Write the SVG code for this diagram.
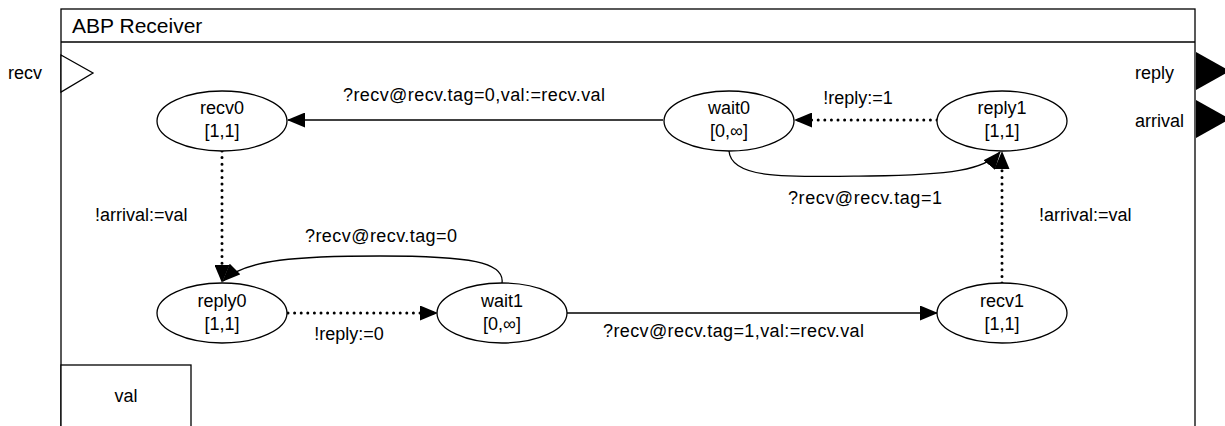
<svg xmlns="http://www.w3.org/2000/svg" width="1225" height="426" viewBox="0 0 1225 426">
  <style>
    text { font-family: "Liberation Sans", Arial, Helvetica, sans-serif; font-size: 18px; fill: #000; }
    .title { font-size: 21px; }
    .mid { text-anchor: middle; }
    .state { fill: #fff; stroke: #000; stroke-width: 1.3; }
    .edge { fill: none; stroke: #000; stroke-width: 1.3; }
    .dot { fill: none; stroke: #000; stroke-width: 3; stroke-dasharray: 0 6.6; stroke-linecap: round; }
    .frame { fill: #fff; stroke: #000; stroke-width: 1.3; }
  </style>
  <defs>
    <marker id="arrow" markerUnits="userSpaceOnUse" markerWidth="18" markerHeight="15" viewBox="0 0 18 15" refX="17" refY="7.5" orient="auto">
      <path d="M0,0 L18,7.5 L0,15 z" fill="#000" stroke="none"/>
    </marker>
  </defs>

  <rect width="1225" height="426" fill="#fff"/>

  <!-- component frame -->
  <g id="frame">
    <rect class="frame" x="61" y="9" width="1134" height="520"/>
    <line x1="61" y1="42" x2="1195" y2="42" stroke="#000" stroke-width="1.3"/>
    <text class="title" x="72" y="33">ABP Receiver</text>
  </g>

  <!-- ports -->
  <g id="port-recv">
    <polygon points="61,55 93,73 61,92" fill="#fff" stroke="#000" stroke-width="1.3"/>
    <text x="8" y="79">recv</text>
  </g>
  <g id="port-reply">
    <polygon points="1196,52 1230,71 1196,90" fill="#000"/>
    <text x="1135" y="79">reply</text>
  </g>
  <g id="port-arrival">
    <polygon points="1196,100 1230,119 1196,138" fill="#000"/>
    <text x="1135" y="127">arrival</text>
  </g>

  <!-- variable box -->
  <g id="var-val">
    <rect class="frame" x="61" y="365" width="130" height="90"/>
    <text class="mid" x="126" y="402">val</text>
  </g>

  <!-- transitions -->
  <g id="connectors">
    <path class="edge" d="M663,120 L288,120" marker-end="url(#arrow)"/>
    <text x="343" y="101" textLength="262" lengthAdjust="spacing">?recv@recv.tag=0,val:=recv.val</text>

    <path class="dot" d="M937,120 L795,120" marker-end="url(#arrow)"/>
    <text class="mid" x="858" y="104">!reply:=1</text>

    <path class="edge" d="M729,151 C731,180 790,177 870,176 C950,175 985,170 1000,152" marker-end="url(#arrow)"/>
    <text x="788" y="204" textLength="154" lengthAdjust="spacing">?recv@recv.tag=1</text>

    <path class="dot" d="M1002,283 L1002,152" marker-end="url(#arrow)"/>
    <text x="1039" y="221">!arrival:=val</text>

    <path class="dot" d="M222,151 L222,282" marker-end="url(#arrow)"/>
    <text x="95" y="221">!arrival:=val</text>

    <path class="edge" d="M502,283 C505,262 470,256 380,256 C300,256 245,259 223,281" marker-end="url(#arrow)"/>
    <text x="305" y="242" textLength="152" lengthAdjust="spacing">?recv@recv.tag=0</text>

    <path class="dot" d="M288,313 L437,313" marker-end="url(#arrow)"/>
    <text class="mid" x="349" y="340">!reply:=0</text>

    <path class="edge" d="M567,313 L937,313" marker-end="url(#arrow)"/>
    <text x="603" y="337" textLength="261" lengthAdjust="spacing">?recv@recv.tag=1,val:=recv.val</text>
  </g>

  <!-- states -->
  <g id="recv0">
    <ellipse class="state" cx="222" cy="121" rx="65" ry="30"/>
    <text class="mid" x="222" y="114">recv0</text>
    <text class="mid" x="222" y="137">[1,1]</text>
  </g>
  <g id="wait0">
    <ellipse class="state" cx="729" cy="121" rx="65" ry="30"/>
    <text class="mid" x="729" y="114">wait0</text>
    <text class="mid" x="729" y="137">[0,∞]</text>
  </g>
  <g id="reply1">
    <ellipse class="state" cx="1002" cy="121" rx="65" ry="30"/>
    <text class="mid" x="1002" y="114">reply1</text>
    <text class="mid" x="1002" y="137">[1,1]</text>
  </g>
  <g id="reply0">
    <ellipse class="state" cx="222" cy="313" rx="65" ry="30"/>
    <text class="mid" x="222" y="307">reply0</text>
    <text class="mid" x="222" y="330">[1,1]</text>
  </g>
  <g id="wait1">
    <ellipse class="state" cx="502" cy="313" rx="65" ry="30"/>
    <text class="mid" x="502" y="307">wait1</text>
    <text class="mid" x="502" y="330">[0,∞]</text>
  </g>
  <g id="recv1">
    <ellipse class="state" cx="1002" cy="313" rx="65" ry="30"/>
    <text class="mid" x="1002" y="307">recv1</text>
    <text class="mid" x="1002" y="330">[1,1]</text>
  </g>
</svg>
